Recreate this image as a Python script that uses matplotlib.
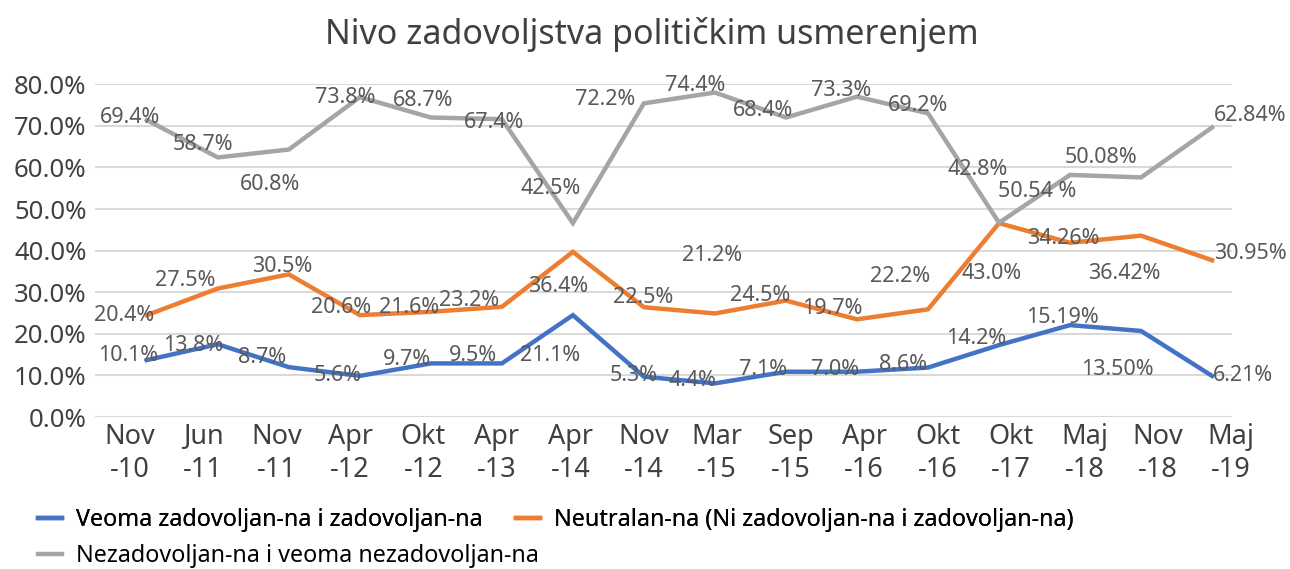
import numpy as np
import matplotlib
matplotlib.use("Agg")
import matplotlib.pyplot as plt

plt.rcParams['font.family'] = ['Noto Sans', 'DejaVu Sans']

# categories (survey dates)
periods = ["Nov\n-10", "Jun\n-11", "Nov\n-11", "Apr\n-12", "Okt\n-12", "Apr\n-13", "Apr\n-14", "Nov\n-14",
           "Mar\n-15", "Sep\n-15", "Apr\n-16", "Okt\n-16", "Okt\n-17", "Maj\n-18", "Nov\n-18", "Maj\n-19"]

# line values as drawn (%)
satisfied = [13.7, 17.5, 12.0, 9.9, 12.9, 12.9, 24.5, 9.7, 8.1, 10.9, 10.9, 11.9, 17.3, 22.1, 20.7, 9.9]
neutral = [24.5, 30.9, 34.3, 24.5, 25.3, 26.5, 39.7, 26.4, 24.9, 28.0, 23.5, 25.9, 46.6, 41.9, 43.6, 37.7]
unsatisfied = [71.4, 62.4, 64.3, 76.9, 72.0, 71.6, 46.6, 75.4, 78.0, 72.0, 77.0, 73.0, 46.7, 58.2, 57.6, 69.6]

# data label texts as printed on the chart
satisfied_lbl = ["10.1%", "13.8%", "8.7%", "5.6%", "9.7%", "9.5%", "21.1%", "5.3%",
                 "4.4%", "7.1%", "7.0%", "8.6%", "14.2%", "15.19%", "13.50%", "6.21%"]
neutral_lbl = ["20.4%", "27.5%", "30.5%", "20.6%", "21.6%", "23.2%", "36.4%", "22.5%",
               "21.2%", "24.5%", "19.7%", "22.2%", "43.0%", "34.26%", "36.42%", "30.95%"]
unsatisfied_lbl = ["69.4%", "58.7%", "60.8%", "73.8%", "68.7%", "67.4%", "42.5%", "72.2%",
                   "74.4%", "68.4%", "73.3%", "69.2%", "42.8%", "50.54 %", "50.08%", "62.84%"]

# where each data label sits (x index, y %)
satisfied_pos = [(-0.27, 14.7), (0.65, 17.3), (1.62, 14.2), (2.69, 10.1), (3.66, 13.9), (4.59, 14.9),
                 (5.68, 14.7), (6.85, 9.9), (7.69, 8.7), (8.68, 11.5), (9.69, 11.5), (10.65, 12.7),
                 (11.68, 19.0), (12.89, 24.0), (13.66, 11.5), (15.44, 9.9)]
neutral_pos = [(-0.32, 24.5), (0.54, 32.9), (1.91, 36.1), (2.74, 26.4), (3.69, 26.4), (4.54, 28.1),
               (5.79, 31.5), (6.99, 28.8), (7.96, 38.9), (8.63, 29.3), (9.65, 26.0), (10.6, 33.9),
               (11.9, 34.6), (12.9, 43.0), (13.76, 34.4), (15.54, 39.4)]
unsatisfied_pos = [(-0.24, 72.1), (0.79, 65.4), (1.74, 55.8), (2.79, 76.9), (3.89, 76.2), (4.89, 70.7),
                   (5.68, 55.0), (6.46, 76.4), (7.72, 79.6), (8.68, 73.8), (9.77, 78.4), (10.86, 74.8),
                   (11.7, 59.4), (12.54, 54.1), (13.44, 62.5), (15.54, 72.6)]

names = ["Veoma zadovoljan-na i zadovoljan-na",
         "Neutralan-na (Ni zadovoljan-na i zadovoljan-na)",
         "Nezadovoljan-na i veoma nezadovoljan-na"]
colors = ["#4472C4", "#ED7D31", "#A5A5A5"]

fig = plt.figure(figsize=(12.9, 5.69), dpi=100)
ax = fig.add_axes([0.0736, 0.267, 0.8814, 0.585])

x = np.arange(len(periods))
lines = []
for vals, c, n in zip([satisfied, neutral, unsatisfied], colors, names):
    l, = ax.plot(x, vals, color=c, lw=3.2, label=n, solid_joinstyle='miter', zorder=3)
    lines.append(l)

for lbls, pos in [(satisfied_lbl, satisfied_pos), (neutral_lbl, neutral_pos), (unsatisfied_lbl, unsatisfied_pos)]:
    for t, (px, py) in zip(lbls, pos):
        ax.text(px, py, t, ha='center', va='center', fontsize=15.5, color='#595959', zorder=4)

ax.set_xlim(-0.73, 15.28)
ax.set_ylim(0, 80)
ax.set_yticks(np.arange(0, 81, 10))
ax.set_yticklabels(["%.1f%%" % v for v in np.arange(0, 81, 10)], fontsize=18.5, color='#404040')
ax.set_xticks(-0.24 + x * 1.034)
ax.set_xticklabels(periods, fontsize=19.5, color='#404040', linespacing=1.25)
ax.tick_params(length=0, pad=6)
ax.tick_params(axis='x', pad=4)
ax.grid(axis='y', color='#D9D9D9', lw=1.5)
ax.set_axisbelow(True)
for s in ax.spines.values():
    s.set_visible(False)

fig.text(0.505, 0.94, "Nivo zadovoljstva političkim usmerenjem", ha='center', va='center',
         fontsize=24.5, color='#404040')

leg_kw = dict(frameon=False, fontsize=16.8, handlelength=1.05, handletextpad=0.6, columnspacing=1.4)
leg1 = fig.legend(lines[:2], names[:2], ncol=2, loc='center left',
                  bbox_to_anchor=(0.013, 1 - 520 / 569), **leg_kw)
fig.add_artist(leg1)
fig.legend(lines[2:], names[2:], loc='center left',
           bbox_to_anchor=(0.013, 1 - 556 / 569), **leg_kw)

fig.savefig("out.png", dpi=100)
